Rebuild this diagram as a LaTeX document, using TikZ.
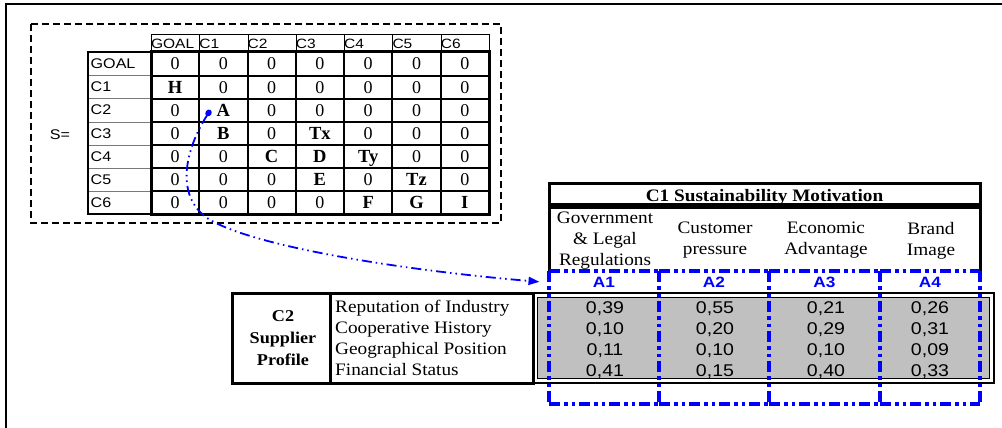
\documentclass[tikz,border=0pt]{standalone}
\usepackage{fontspec}
\setmainfont{Liberation Serif}
\setsansfont{Liberation Sans}
\newfontfamily\wserif{Liberation Serif}[FakeStretch=1.1]
\newfontfamily\wsans{Liberation Sans}[FakeStretch=1.15]
\usetikzlibrary{arrows.meta}
\definecolor{cellgray}{RGB}{192,192,192}
\definecolor{linkblue}{RGB}{0,0,255}
\definecolor{rulegray}{RGB}{120,120,120}
\tikzset{
  frameline/.style={line width=1.6pt},
  groupbox/.style={line width=2.8pt, dash pattern=on 7pt off 4pt},
  hdrtext/.style={inner sep=0pt, anchor=west, font=\wsans\fontsize{13.5}{15}\selectfont},
  rowtext/.style={inner sep=0pt, anchor=west, font=\wsans\fontsize{14}{15}\selectfont},
  valtext/.style={inner sep=0pt, anchor=base, font=\fontsize{18}{20}\selectfont},
  thinrule/.style={line width=1pt},
  cellrule/.style={line width=2pt},
  heavyrule/.style={line width=3pt},
  wtext/.style={inner sep=0pt, font=\wserif\fontsize{17.5}{21}\selectfont},
  numtext/.style={inner sep=0pt, anchor=base, font=\wsans\fontsize{17}{21}\selectfont},
  alabel/.style={inner sep=0pt, anchor=base, text=linkblue, font=\wsans\bfseries\fontsize{15}{16}\selectfont},
  bluedash/.style={draw=linkblue, line width=3.4pt, dash pattern=on 11pt off 4pt on 3.5pt off 4pt on 3.5pt off 4pt},
  linkarrow/.style={draw=linkblue, line width=1.8pt,
    dash pattern=on 10pt off 4pt on 1.5pt off 4pt on 1.5pt off 4pt,
    {Circle[length=7pt,width=6pt]}-{Triangle[length=11pt,width=8pt]}},
}
\newcommand{\ltr}[1]{{\bfseries\fontsize{18.5}{20}\selectfont #1}}
\begin{document}
\begin{tikzpicture}[x=1pt,y=-1pt]
\useasboundingbox (0,0) rectangle (1002,428);

% outer frame
\draw[frameline] (6,428) -- (6,4) -- (1002,4);

% ---------------- structure matrix S ----------------
\draw[groupbox] (31,24) rectangle (501,223);
\node[inner sep=0pt, font=\wsans\fontsize{14}{15}\selectfont] (seq) at (60,135) {S=};

% column header strip
\draw[thinrule] (151,35) rectangle (489,52);
\foreach \x in {199,248,296,344,392,441} \draw[thinrule] (\x,35) -- (\x,52);
\foreach \lab [count=\c] in {GOAL,C1,C2,C3,C4,C5,C6}
  \node[hdrtext] (ch-\c) at ({102.5+48.3*\c},43.8) {\lab};

% row header strip
\foreach \y in {76,99,122,145,168,191} \draw[rulegray, thinrule] (88,\y) -- (151,\y);
\draw[line width=2.2pt] (151,52) -- (88,52) -- (88,214) -- (151,214);
\foreach \lab [count=\r] in {GOAL,C1,C2,C3,C4,C5,C6}
  \node[rowtext] (rh-\r) at (90.5,{40.8+23.1*\r}) {\lab};

% value grid
\foreach \x in {199,248,296,344,392,441} \draw[cellrule] (\x,52) -- (\x,214);
\foreach \y in {76,99,122,145,168,191} \draw[cellrule] (151,\y) -- (489,\y);
\draw[heavyrule] (151,52) rectangle (489,214);

\foreach \rowvals [count=\r] in {
  {0,0,0,0,0,0,0},
  {\ltr{H},0,0,0,0,0,0},
  {0,\ltr{A},0,0,0,0,0},
  {0,\ltr{B},0,\ltr{Tx},0,0,0},
  {0,0,\ltr{C},\ltr{D},\ltr{Ty},0,0},
  {0,0,0,\ltr{E},0,\ltr{Tz},0},
  {0,0,0,0,\ltr{F},\ltr{G},\ltr{I}}}{
  \foreach \v [count=\c] in \rowvals
    \node[valtext] (m-\r-\c) at ({126.7+48.3*\c},{46.8+23.1*\r}) {\v};
}

% ---------------- C1 sustainability motivation ----------------
\draw[heavyrule] (549,183) rectangle (980,204);
\node[inner sep=0pt, anchor=base, font=\wserif\bfseries\fontsize{17.5}{21}\selectfont]
  (c1title) at (764.5,201) {C1 Sustainability Motivation};
\draw[heavyrule] (549,272) -- (549,207) -- (980,207) -- (980,272);

\node[wtext, align=center] (mot1) at (605,240.5) {Government\\\& Legal\\Regulations};
\node[wtext, align=center] (mot2) at (715,240.5) {Customer\\pressure};
\node[wtext, align=center] (mot3) at (826,240.5) {Economic\\Advantage};
\node[wtext, align=center] (mot4) at (931,240.5) {Brand\\Image};

% ---------------- C2 supplier profile ----------------
\draw[heavyrule] (232,293) rectangle (533,383);
\draw[heavyrule] (330,293) -- (330,383);
\node[inner sep=0pt, align=center, font=\wserif\bfseries\fontsize{16.5}{22}\selectfont]
  (c2head) at (283,338) {C2\\Supplier\\Profile};
\foreach \item [count=\i] in {Reputation of Industry,Cooperative History,Geographical Position,Financial Status}
  \node[wtext, anchor=base west] (item-\i) at (335,{291.5+21*\i}) {\item};

% weights block
\draw[line width=2pt] (533,293) rectangle (994,383);
\draw[line width=1.2pt, fill=cellgray] (537.5,297.5) rectangle (989.5,378.5);
\foreach \rowvals [count=\r] in {
  {{0,39},{0,55},{0,21},{0,26}},
  {{0,10},{0,20},{0,29},{0,31}},
  {{0,11},{0,10},{0,10},{0,09}},
  {{0,41},{0,15},{0,40},{0,33}}}{
  \foreach \v [count=\c] in \rowvals {
    \pgfmathsetmacro{\cx}{{605,715,826,930}[\c-1]}
    \node[numtext] (w-\r-\c) at (\cx,{292.5+21*\r}) {\v};
  }
}

% ---------------- alternative columns ----------------
\foreach \x in {549,659,769,880,980} \draw[bluedash] (\x,271) -- (\x,404);
\foreach \xa/\xb [count=\i] in {549/659,659/769,769/880,880/980} {
  \draw[bluedash] (\xa,271) -- (\xb,271);
  \draw[bluedash] (\xa,404) -- (\xb,404);
  \node[alabel] (a\i) at ({(\xa+\xb)/2},287) {A\i};
}

% link from entry A to the alternatives
\coordinate (linkstart) at ([xshift=-6pt]m-3-2.west);
\coordinate (linkend) at ([xshift=-64.5pt]a1.center);
\draw[linkarrow] (linkstart) .. controls (185,150) and (175,195) .. (207,218)
  .. controls (250,246) and (400,270) .. (linkend);
\end{tikzpicture}
\end{document}
